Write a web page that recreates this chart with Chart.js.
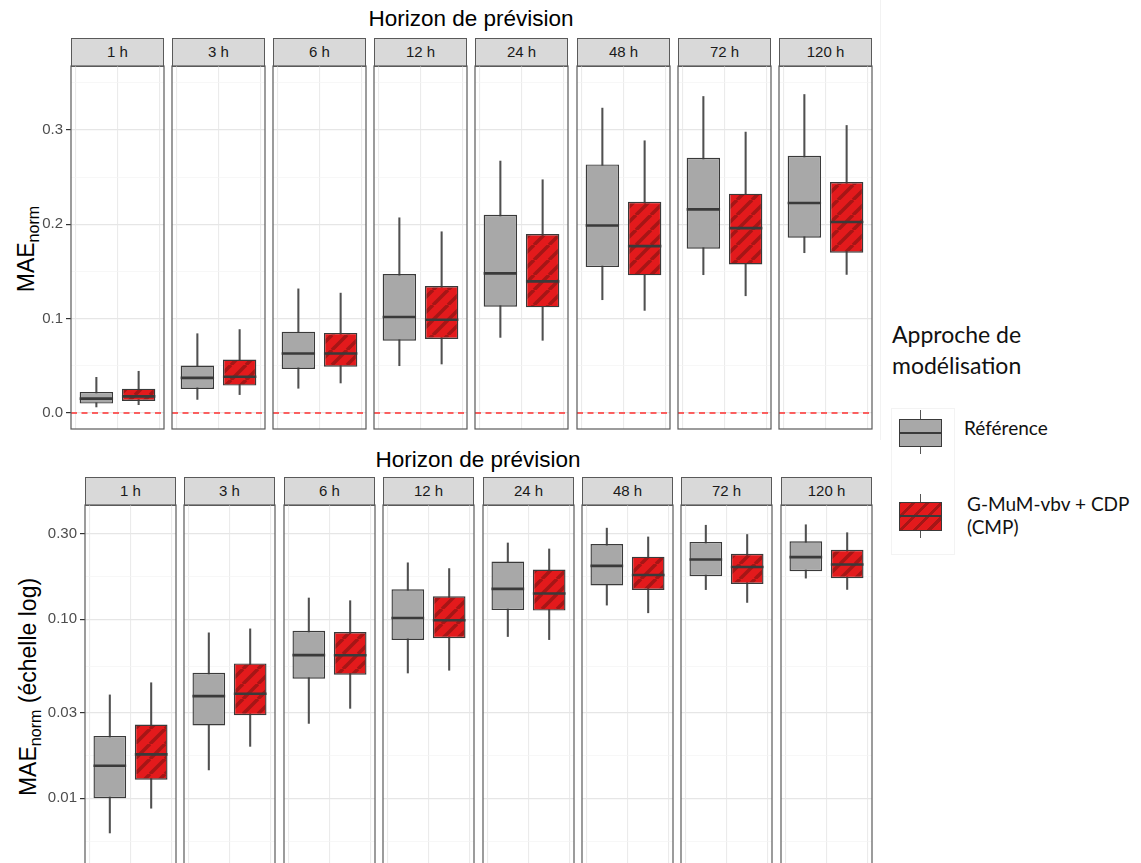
<!DOCTYPE html>
<html lang="fr">
<head>
<meta charset="utf-8">
<title>MAE norm par horizon de prévision</title>
<script src="https://cdn.jsdelivr.net/npm/chart.js@4.4.1/dist/chart.umd.min.js"></script>
<style>
  html, body { margin: 0; padding: 0; background: #fff; }
  body { width: 1141px; height: 863px; position: relative; overflow: hidden;
         font-family: "Liberation Sans", Arial, sans-serif; }
  canvas { position: absolute; }
  .strip { position: absolute; box-sizing: border-box; background: #d9d9d9;
           border: 1.2px solid #5a5a5a; color: #1a1a1a; font-size: 15px;
           text-align: center; }
  .facet-title { position: absolute; font-size: 22.5px; color: #000;
                 transform: translateX(-50%); white-space: nowrap; }
  .ytitle { position: absolute; font-size: 23px; color: #000; white-space: nowrap;
            transform: translate(-50%, -50%) rotate(-90deg); }
  .ytitle .sub { font-size: 0.7em; position: relative; top: 0.3em; }
  .lg { position: absolute; box-sizing: border-box; }
  .lg-text { position: absolute; font-family: Lato, "Open Sans", sans-serif; color: #111; white-space: nowrap; }
</style>
</head>
<body>

<div class="facet-title" style="left:471px; top:6px;">Horizon de prévision</div>
<div class="facet-title" style="left:478px; top:447px;">Horizon de prévision</div>
<div class="ytitle" style="left:26px; top:249px;">MAE<span class="sub">norm</span></div>
<div class="ytitle" style="left:28px; top:687px;">MAE<span class="sub">norm</span> (échelle log)</div>
<div style="position:absolute; left:880px; top:0; width:1px; height:440px; background:#f2f2f2;"></div>

<!-- legend -->
<div class="lg-text" style="left:892px; top:319px; font-size:23px; line-height:31px;">Approche de<br>modélisation</div>
<div class="lg" style="left:891px; top:408px; width:64px; height:147px; border:1px solid #f3f3f3;"></div>
<div class="lg" style="left:920px; top:410px; width:1.4px; height:44px; background:#555;"></div>
<div class="lg" style="left:899px; top:419px; width:43px; height:28px; background:#a8a8a8; border:1.4px solid #3a3a3a;"></div>
<div class="lg" style="left:899px; top:431.5px; width:43px; height:2.2px; background:#3a3a3a;"></div>
<div class="lg" style="left:920px; top:494px; width:1.4px; height:44px; background:#555;"></div>
<div class="lg" style="left:899px; top:502px; width:43px; height:29px; border:1.4px solid #3a3a3a;
     background:repeating-linear-gradient(-45deg, #e31a1c 0 7px, #a51616 7px 10px);"></div>
<div class="lg" style="left:899px; top:515px; width:43px; height:2.2px; background:#3a3a3a;"></div>
<div class="lg-text" style="left:964px; top:417px; font-size:19px; line-height:22px;">Référence</div>
<div class="lg-text" style="left:967px; top:492px; font-size:19px; line-height:23px;">G-MuM-vbv + CDP<br>(CMP)</div>

<script>
// facets and groups
const horizons = ['1 h', '3 h', '6 h', '12 h', '24 h', '48 h', '72 h', '120 h'];
const approaches = ['Référence', 'G-MuM-vbv + CDP (CMP)'];

// Référence : whisker low, Q1, median, Q3, whisker high
const refLow    = [0.0064, 0.0144, 0.0262, 0.0501, 0.0801, 0.1200, 0.1465, 0.1698];
const refQ1     = [0.0100, 0.0255, 0.0466, 0.0766, 0.1126, 0.1546, 0.1740, 0.1857];
const refMedian = [0.0152, 0.0372, 0.0631, 0.1017, 0.1479, 0.1987, 0.2157, 0.2224];
const refQ3     = [0.0223, 0.0502, 0.0862, 0.1472, 0.2100, 0.2633, 0.2704, 0.2725];
const refHigh   = [0.0378, 0.0840, 0.1315, 0.2068, 0.2669, 0.3230, 0.3353, 0.3374];

// G-MuM-vbv + CDP (CMP)
const cmpLow    = [0.0088, 0.0195, 0.0318, 0.0519, 0.0770, 0.1087, 0.1242, 0.1468];
const cmpQ1     = [0.0127, 0.0291, 0.0490, 0.0784, 0.1119, 0.1458, 0.1574, 0.1698];
const cmpMedian = [0.0176, 0.0384, 0.0630, 0.0988, 0.1394, 0.1768, 0.1959, 0.2023];
const cmpQ3     = [0.0258, 0.0567, 0.0848, 0.1345, 0.1896, 0.2238, 0.2323, 0.2446];
const cmpHigh   = [0.0442, 0.0884, 0.1270, 0.1920, 0.2471, 0.2884, 0.2976, 0.3046];

// tick values (major get labels, the rest are minor grid lines)
const linTicks = [0, 0.05, 0.1, 0.15, 0.2, 0.25, 0.3, 0.35];
const linMajor = [0, 0.1, 0.2, 0.3];
const linLabels = ['0.0', '0.1', '0.2', '0.3'];
const logTicks = [0.00577, 0.01, 0.01732, 0.03, 0.05477, 0.1, 0.1732, 0.3];
const logMajor = [0.01, 0.03, 0.1, 0.3];
const logLabels = ['0.01', '0.03', '0.10', '0.30'];

const GRAY = '#a8a8a8';
const EDGE = '#3a3a3a';
const BOX = 0.79;

// diagonal "/" stripes for the CMP boxes
function stripes(fill, line, size) {
    const c = document.createElement('canvas');
    c.width = c.height = size;
    const g = c.getContext('2d');
    g.fillStyle = fill;
    g.fillRect(0, 0, size, size);
    g.strokeStyle = line;
    g.lineWidth = 3.5;
    g.beginPath();
    for (let k = -1; k <= 1; k++) {
        g.moveTo(k * size, size);
        g.lineTo(k * size + size, 0);
    }
    g.stroke();
    return g.createPattern(c, 'repeat');
}
const redPattern = stripes('#e31a1c', '#a51616', 15);

// panel frame drawn on the chart area
const panelBorder = {
    id: 'panelBorder',
    afterDraw(chart, args, opts) {
        const a = chart.chartArea, c = chart.ctx;
        c.save();
        c.strokeStyle = '#5a5a5a';
        c.lineWidth = 1.2;
        c.strokeRect(a.left, a.top, a.right - a.left, a.bottom - a.top + (opts.openBottom ? 4 : 0));
        c.restore();
    }
};

const rows = [
    { left0: 71, pitch: 101.1, w: 93, stripTop: 38, bodyTop: 66, bodyH: 363,
      yType: 'linear', yMin: -0.01695, yMax: 0.3676,
      ticks: linTicks, major: linMajor, labels: linLabels, zeroLine: true, openBottom: false },
    { left0: 85, pitch: 99.4, w: 91, stripTop: 477, bodyTop: 505, bodyH: 358,
      yType: 'logarithmic', yMin: 0.004349, yMax: 0.435,
      ticks: logTicks, major: logMajor, labels: logLabels, zeroLine: false, openBottom: true }
];

function buildPanel(row, i) {
    const first = i === 0;
    const left = Math.round(row.left0 + i * row.pitch);
    const axisW = first ? left - 1 : 0;
    const cw = axisW + row.w + 2, ch = row.bodyH + 2;

    const strip = document.createElement('div');
    strip.className = 'strip';
    strip.style.left = left + 'px';
    strip.style.top = row.stripTop + 'px';
    strip.style.width = row.w + 'px';
    strip.style.height = (row.bodyTop - row.stripTop + 1) + 'px';
    strip.style.lineHeight = (row.bodyTop - row.stripTop - 2) + 'px';
    strip.textContent = horizons[i];
    document.body.appendChild(strip);

    const cv = document.createElement('canvas');
    cv.width = cw;
    cv.height = ch;
    cv.style.left = (left - axisW - 1) + 'px';
    cv.style.top = (row.bodyTop - 1) + 'px';
    cv.style.width = cw + 'px';
    cv.style.height = ch + 'px';
    document.body.appendChild(cv);

    const isMajor = c => c.tick && row.major.includes(c.tick.value);

    const datasets = [
        { // whiskers
            type: 'bar', label: 'whiskers',
            data: [{ x: 1, y: [refLow[i], refHigh[i]] }, { x: 2, y: [cmpLow[i], cmpHigh[i]] }],
            backgroundColor: '#505050', borderWidth: 0, barThickness: 1.4, grouped: false, order: 4
        },
        { // boxes
            type: 'bar', label: 'boxes',
            data: [{ x: 1, y: [refQ1[i], refQ3[i]] }, { x: 2, y: [cmpQ1[i], cmpQ3[i]] }],
            backgroundColor: [GRAY, redPattern], borderColor: EDGE, borderWidth: 1.4,
            borderSkipped: false, grouped: false, categoryPercentage: 1, barPercentage: BOX, order: 2
        },
        { // medians
            type: 'line', label: 'median',
            data: [{ x: 1, y: refMedian[i] }, { x: 2, y: cmpMedian[i] }],
            showLine: false, pointStyle: 'line', borderColor: EDGE, pointBorderColor: EDGE,
            pointBorderWidth: 2.6,
            pointRadius: c => {
                const s = c.chart.scales.x;
                return s ? (s.getPixelForValue(2) - s.getPixelForValue(1)) * BOX / 2 : 16;
            },
            order: 1
        }
    ];
    if (row.zeroLine) {
        datasets.push({
            type: 'line', label: 'zero',
            data: [{ x: 0.4, y: 0 }, { x: 2.6, y: 0 }],
            borderColor: '#ff3030', borderWidth: 1.3, borderDash: [6, 4.5], pointRadius: 0, order: 5
        });
    }

    new Chart(cv, {
        type: 'bar',
        data: { labels: approaches, datasets: datasets },
        plugins: [panelBorder],
        options: {
            responsive: false,
            animation: false,
            devicePixelRatio: 1,
            layout: { padding: 1 },
            plugins: {
                legend: { display: false },
                tooltip: { enabled: false },
                panelBorder: { openBottom: row.openBottom }
            },
            scales: {
                x: {
                    type: 'linear', min: 0.4, max: 2.6, bounds: 'data', offset: false,
                    afterBuildTicks: s => { s.ticks = [{ value: 1 }, { value: 2 }]; },
                    afterFit: s => { s.height = 0; s.paddingLeft = 0; s.paddingRight = 0; },
                    border: { display: false },
                    grid: { color: '#ebebeb', lineWidth: 1.1, drawTicks: false },
                    ticks: { display: false }
                },
                y: {
                    type: row.yType, min: row.yMin, max: row.yMax, bounds: 'data',
                    afterBuildTicks: s => { s.ticks = row.ticks.map(v => ({ value: v })); },
                    afterFit: s => { s.width = axisW; s.paddingTop = 0; s.paddingBottom = 0; },
                    border: { display: false },
                    grid: {
                        color: c => isMajor(c) ? '#e6e6e6' : '#f3f3f3',
                        lineWidth: c => isMajor(c) ? 1.2 : 0.7,
                        drawTicks: first,
                        tickLength: 5,
                        tickColor: c => isMajor(c) ? '#333333' : 'rgba(0,0,0,0)',
                        tickWidth: 1.2
                    },
                    ticks: {
                        display: first, autoSkip: false, padding: 3, color: '#4d4d4d',
                        font: { family: 'Liberation Sans', size: 15 },
                        callback: v => {
                            const k = row.major.indexOf(v);
                            return k >= 0 ? row.labels[k] : '';
                        }
                    }
                }
            }
        }
    });
}

rows.forEach(row => horizons.forEach((h, i) => buildPanel(row, i)));
</script>
</body>
</html>
